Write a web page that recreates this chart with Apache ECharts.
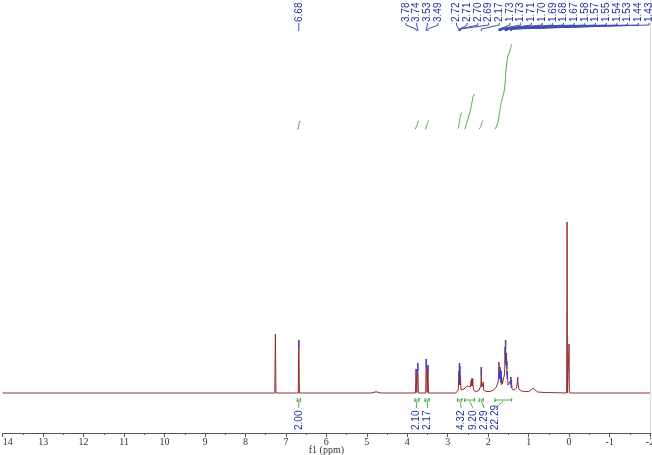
<!DOCTYPE html>
<html>
<head>
<meta charset="utf-8">
<style>
  html, body { margin: 0; padding: 0; background: #fff; }
  #chart { width: 652px; height: 455px; }
</style>
<script src="https://cdn.jsdelivr.net/npm/echarts@6/dist/echarts.min.js"></script>
</head>
<body>
<div id="chart"></div>
<script>
// spectrum points (ppm, height above baseline)
const specPpm = [
  14.0, 7.275, 7.26, 7.245, 6.695, 6.68, 6.665, 4.90, 4.77, 4.65,
  3.80, 3.78, 3.765, 3.74, 3.725, 3.545, 3.53, 3.51, 3.49, 3.475,
  2.80, 2.74, 2.72, 2.715, 2.71, 2.705, 2.70, 2.695, 2.69, 2.67,
  2.60, 2.52, 2.48, 2.44, 2.42, 2.41, 2.40, 2.39, 2.38, 2.37,
  2.34, 2.28, 2.22, 2.18, 2.17, 2.16, 2.13, 2.12, 2.11, 2.05,
  1.95, 1.86, 1.80, 1.76, 1.74, 1.735, 1.73, 1.72, 1.71, 1.705,
  1.70, 1.695, 1.69, 1.685, 1.68, 1.675, 1.67, 1.65, 1.62, 1.60,
  1.59, 1.58, 1.575, 1.57, 1.565, 1.56, 1.55, 1.545, 1.54, 1.535,
  1.53, 1.51, 1.48, 1.45, 1.44, 1.435, 1.43, 1.41, 1.36, 1.30,
  1.28, 1.27, 1.26, 1.24, 1.18, 1.10, 1.00, 0.94, 0.89, 0.85,
  0.78, 0.60, 0.30, 0.06, 0.05, 0.04, 0.006, 0.0, -0.006, -2.0
];
const specInt = [
  0, 0, 59, 0, 0, 53, 0, 0, 1.2, 0,
  0, 24, 0.5, 30, 0, 0, 34, 0.5, 28, 0,
  0, 3, 22, 8, 30, 10, 27, 8, 18, 3,
  4, 7, 8, 6, 13, 7, 15, 7, 14, 5,
  2, 1.5, 3, 8, 26, 6, 4, 11, 3, 1.5,
  1.5, 3, 6, 10, 16, 31, 22, 14, 26, 14,
  24, 12, 20, 10, 22, 10, 16, 9, 11, 18,
  25, 46, 30, 53, 35, 28, 40, 25, 32, 18,
  22, 8, 6, 12, 16, 9, 13, 4, 3, 5,
  10, 16, 9, 4, 2, 1.5, 1.5, 3, 5, 3.5,
  1, 0.5, 0.3, 0, 171, 0, 0, 49, 0, 0
];

// picked peaks shown at the top
const peakLabels = [
  6.68, 3.78, 3.74, 3.53, 3.49, 2.72, 2.71, 2.70, 2.69, 2.17,
  1.73, 1.73, 1.71, 1.70, 1.69, 1.68, 1.67, 1.58, 1.57, 1.55,
  1.54, 1.53, 1.44, 1.43
];

// integrals: value and ppm range
const integralValues = [2.00, 2.10, 2.17, 4.32, 9.20, 2.29, 22.29];
const integralFrom = [6.72, 3.81, 3.56, 2.76, 2.58, 2.22, 1.83];
const integralTo = [6.64, 3.71, 3.46, 2.65, 2.34, 2.12, 1.42];

const RED = '#992a2a';
const BLUE = '#23329a';
const GREEN = '#4fae4f';
const INT_BASE = 264;   // integral curves start here (y units)
const INT_SCALE = 3.8;  // y units per proton

function interp(ppm) {
  for (let i = 1; i < specPpm.length; i++) {
    if (specPpm[i] <= ppm) {
      const a = specPpm[i - 1], b = specPpm[i];
      const t = a === b ? 0 : (a - ppm) / (a - b);
      return specInt[i - 1] + (specInt[i] - specInt[i - 1]) * t;
    }
  }
  return 0;
}

function heightAt(ppm) {
  let best = 0, d = Infinity;
  specPpm.forEach((p, i) => {
    if (Math.abs(p - ppm) < d) { d = Math.abs(p - ppm); best = specInt[i]; }
  });
  return best;
}

// spread labels so they don't overlap: groups centered, pushed right if needed
function spread(xs, gap, groupGap, splitDist) {
  const out = new Array(xs.length);
  let i = 0, prevEnd = -Infinity;
  while (i < xs.length) {
    let j = i;
    while (j + 1 < xs.length && xs[j + 1] - xs[j] <= splitDist) j++;
    const n = j - i + 1;
    let mean = 0;
    for (let k = i; k <= j; k++) mean += xs[k];
    mean /= n;
    let start = mean - (n - 1) * gap / 2;
    if (start < prevEnd + groupGap) start = prevEnd + groupGap;
    for (let k = i; k <= j; k++) out[k] = start + (k - i) * gap;
    prevEnd = out[j];
    i = j + 1;
  }
  return out;
}

function renderPeakLabel(params, api) {
  const i = params.dataIndex;
  const xs = peakLabels.map(v => api.coord([v, 0])[0]);
  const lx = spread(xs, 10.7, 18.4, 25)[i];
  const px = xs[i];
  return {
    type: 'group',
    children: [
      {
        type: 'text',
        x: lx, y: 22, rotation: Math.PI / 2,
        style: {
          text: peakLabels[i].toFixed(2),
          fill: BLUE,
          font: '10px "Liberation Sans", Arial, sans-serif',
          align: 'left', verticalAlign: 'middle'
        }
      },
      {
        type: 'polyline',
        shape: { points: [[lx, 23], [lx, 25], [px, 29], [px, 31]] },
        style: { stroke: '#3f4fb0', lineWidth: 1, fill: null }
      }
    ]
  };
}

function renderIntegral(params, api) {
  const i = params.dataIndex;
  const centers = integralFrom.map((f, k) => api.coord([(f + integralTo[k]) / 2, 0])[0]);
  const lx = spread(centers, 11.3, 11.3, 25)[i];
  const from = integralFrom[i], to = integralTo[i];
  const x0 = api.coord([from, 0])[0], x1 = api.coord([to, 0])[0];
  const cx = centers[i];

  // running integral of the spectrum across the range
  const pts = [[from, interp(from)]];
  specPpm.forEach((p, k) => { if (p < from && p > to) pts.push([p, specInt[k]]); });
  pts.push([to, interp(to)]);
  const cum = [0];
  for (let k = 1; k < pts.length; k++) {
    cum.push(cum[k - 1] + (pts[k - 1][0] - pts[k][0]) * (pts[k - 1][1] + pts[k][1]) / 2);
  }
  const total = cum[cum.length - 1] || 1;
  const curve = pts.map((p, k) =>
    api.coord([p[0], INT_BASE + cum[k] / total * integralValues[i] * INT_SCALE]));

  return {
    type: 'group',
    children: [
      {
        type: 'polyline',
        shape: { points: curve },
        style: { stroke: GREEN, lineWidth: 1, fill: null }
      },
      {
        type: 'polyline',
        shape: { points: [[x0, 398], [x0, 402], [x0, 400], [x1, 400], [x1, 398], [x1, 402]] },
        style: { stroke: GREEN, lineWidth: 1, fill: null }
      },
      {
        type: 'line',
        shape: { x1: cx, y1: 401, x2: lx, y2: 408 },
        style: { stroke: GREEN, lineWidth: 1 }
      },
      {
        type: 'text',
        x: lx, y: 430, rotation: Math.PI / 2,
        style: {
          text: integralValues[i].toFixed(2),
          fill: BLUE,
          font: '10px "Liberation Sans", Arial, sans-serif',
          align: 'left', verticalAlign: 'middle'
        }
      }
    ]
  };
}

const chart = echarts.init(document.getElementById('chart'));

chart.setOption({
  animation: false,
  backgroundColor: '#fff',
  grid: { left: 2.7, right: 2, top: 0, bottom: 22, outerBoundsMode: 'none', containLabel: false },
  xAxis: {
    type: 'value',
    inverse: true,
    min: -2,
    max: 14,
    interval: 1,
    splitLine: { show: false },
    axisLine: { show: true, onZero: false, lineStyle: { color: '#555', width: 1 } },
    axisTick: { show: true, length: 4, lineStyle: { color: '#555' } },
    minorTick: { show: true, splitNumber: 2, length: 2, lineStyle: { color: '#555' } },
    minorSplitLine: { show: false },
    axisLabel: {
      color: '#333',
      fontFamily: '"Liberation Serif", "DejaVu Serif", serif',
      fontSize: 10,
      margin: 4,
      alignMaxLabel: 'left'
    },
    name: 'f1 (ppm)',
    nameLocation: 'middle',
    nameGap: 12,
    nameMoveOverlap: false,
    nameTextStyle: {
      color: '#333',
      fontFamily: '"Liberation Serif", "DejaVu Serif", serif',
      fontSize: 10
    }
  },
  yAxis: {
    type: 'value',
    position: 'right',
    min: -40,
    max: 393,
    axisLine: { show: true, onZero: false, lineStyle: { color: '#dcdcdc' } },
    axisTick: { show: false },
    axisLabel: { show: false },
    splitLine: { show: false }
  },
  series: [
    {
      name: 'spectrum',
      type: 'line',
      data: specPpm.map((p, i) => [p, specInt[i]]),
      symbol: 'none',
      lineStyle: { color: RED, width: 1 },
      z: 2
    },
    {
      name: 'peak tops',
      type: 'scatter',
      data: peakLabels.map(v => [v, heightAt(v)]),
      symbol: 'rect',
      symbolSize: [1.6, 8],
      symbolOffset: [0, 4],
      itemStyle: { color: '#3548d8', opacity: 0.7 },
      z: 3
    },
    {
      name: 'peak labels',
      type: 'custom',
      data: peakLabels.map(v => [v, 0]),
      renderItem: renderPeakLabel,
      z: 4
    },
    {
      name: 'integrals',
      type: 'custom',
      data: integralValues.map((v, i) => [(integralFrom[i] + integralTo[i]) / 2, 0]),
      renderItem: renderIntegral,
      z: 4
    }
  ]
});
</script>
</body>
</html>
